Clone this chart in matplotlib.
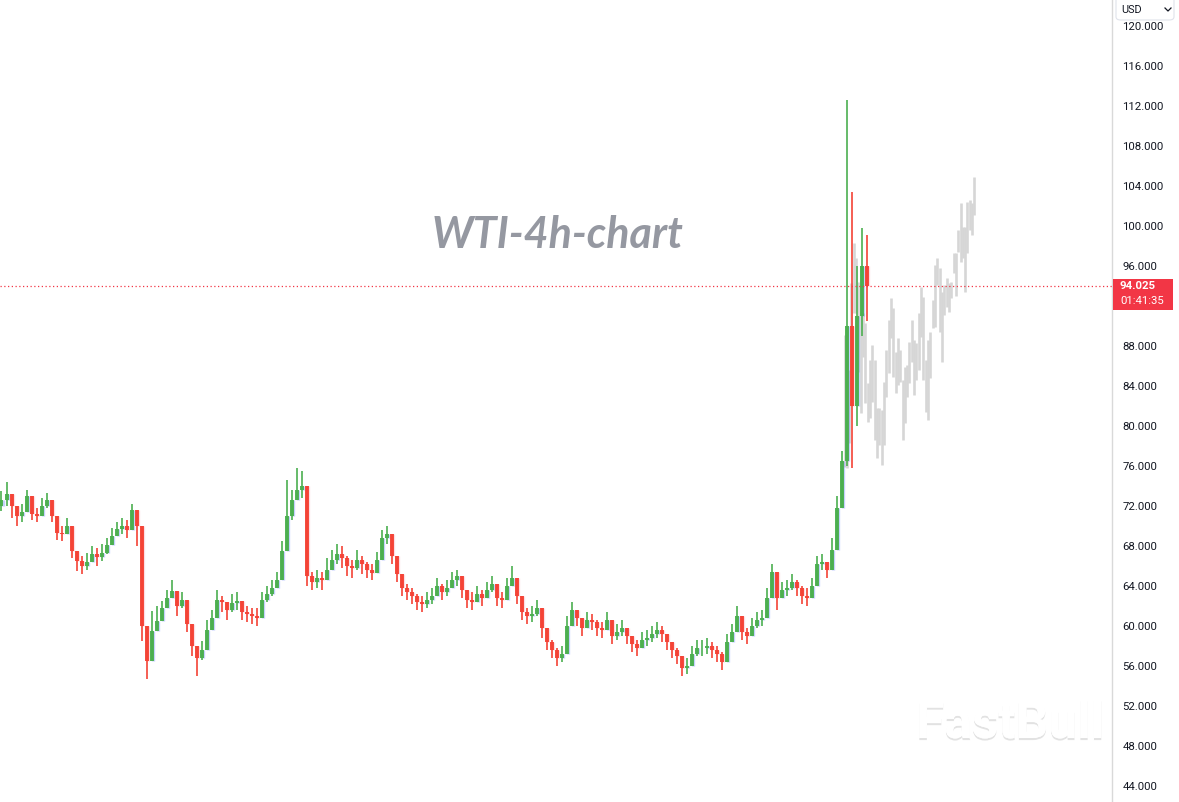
import matplotlib
matplotlib.use("Agg")
import matplotlib.pyplot as plt
import matplotlib.patheffects as pe
from matplotlib.patches import Rectangle, FancyBboxPatch
import numpy as np

first_open = 72.0
closes = [
    72.6, 73.2, 72.0, 71.0, 71.4, 73.0, 71.2, 71.0, 72.0, 72.6,
    71.0, 69.3, 69.2, 70.0, 67.5, 66.5, 66.0, 66.4, 67.2, 66.9,
    67.3, 68.1, 69.0, 69.7, 70.0, 69.6, 71.6, 70.0, 60.0, 56.5,
    59.5, 60.5, 61.8, 62.8, 63.5, 62.0, 62.6, 60.2, 58.0, 56.8,
    57.6, 59.6, 60.8, 62.6, 62.4, 61.6, 62.3, 62.5, 61.4, 61.2,
    61.0, 60.8, 62.6, 63.2, 63.8, 64.6, 67.5, 71.0, 72.6, 73.6,
    74.0, 65.0, 64.4, 64.8, 64.6, 65.6, 66.6, 67.2, 66.8, 66.0,
    65.8, 66.6, 66.2, 65.6, 65.3, 66.6, 68.8, 69.2, 67.0, 65.2,
    63.8, 63.4, 63.0, 62.4, 62.2, 62.6, 63.0, 64.0, 63.4, 63.8,
    64.6, 65.0, 63.6, 62.6, 62.4, 63.2, 62.8, 63.6, 64.2, 62.8,
    62.6, 64.0, 64.8, 63.0, 61.4, 61.0, 61.2, 61.8, 59.8, 58.4,
    57.6, 56.8, 57.2, 60.0, 61.6, 60.8, 59.8, 60.6, 60.4, 59.8,
    59.6, 60.6, 59.0, 59.4, 59.8, 59.0, 58.2, 57.8, 58.6, 58.8,
    59.2, 59.6, 59.2, 58.4, 57.6, 57.0, 55.8, 56.0, 57.2, 57.8,
    57.8, 58.0, 57.6, 57.2, 56.4, 58.4, 59.4, 61.0, 59.4, 59.0,
    60.0, 60.6, 60.8, 62.8, 65.4, 62.8, 63.6, 63.8, 64.4, 63.8,
    63.0, 62.8, 64.0, 66.2, 66.4, 65.6, 67.6, 71.8, 76.5, 90.0,
    82.0, 91.0, 96.0, 94.025,
]
highs = [
    73.5, 74.4, 73.0, 72.0, 72.2, 73.6, 72.5, 71.8, 72.8, 73.3,
    72.0, 70.2, 70.0, 70.8, 68.8, 67.4, 67.0, 67.3, 68.0, 67.8,
    68.2, 68.8, 69.8, 70.4, 70.8, 70.6, 72.2, 71.0, 65.0, 59.0,
    61.5, 62.0, 62.5, 63.6, 64.6, 63.2, 63.4, 61.4, 59.5, 57.8,
    58.5, 60.6, 61.6, 63.6, 63.0, 62.4, 63.2, 63.4, 62.2, 62.0,
    61.8, 61.8, 63.4, 64.0, 64.6, 65.4, 68.5, 74.6, 73.6, 75.8,
    75.5, 72.0, 65.4, 65.6, 65.4, 66.8, 67.6, 68.2, 68.0, 67.0,
    66.6, 67.6, 67.0, 66.4, 66.2, 67.4, 69.6, 70.0, 68.4, 66.2,
    64.8, 64.2, 63.8, 63.2, 63.0, 63.4, 63.8, 64.8, 64.2, 64.6,
    65.4, 65.6, 64.6, 63.4, 63.4, 64.0, 63.6, 64.4, 65.0, 63.8,
    63.4, 64.8, 66.0, 64.0, 62.4, 61.8, 62.0, 62.6, 61.0, 59.4,
    58.6, 57.8, 58.0, 61.0, 62.4, 61.6, 60.6, 61.4, 61.2, 60.6,
    60.4, 61.4, 60.0, 60.2, 60.6, 59.8, 59.0, 58.6, 59.4, 59.6,
    60.0, 60.4, 60.0, 59.2, 58.4, 57.8, 56.8, 56.8, 58.0, 58.6,
    58.6, 58.8, 58.4, 58.0, 57.4, 59.2, 60.2, 62.0, 60.2, 59.8,
    60.8, 61.4, 61.6, 63.8, 66.2, 63.8, 64.4, 64.6, 65.2, 64.6,
    64.0, 63.8, 64.8, 67.0, 67.2, 66.4, 68.8, 73.0, 77.5, 112.6,
    103.4, 96.0, 99.8, 99.1,
]
lows = [
    71.5, 72.0, 70.8, 70.0, 70.4, 72.0, 70.6, 70.4, 71.2, 71.8,
    70.4, 68.6, 68.5, 69.2, 66.8, 65.5, 65.2, 65.6, 66.4, 66.0,
    66.5, 67.2, 68.2, 69.0, 69.2, 68.8, 70.6, 68.0, 58.5, 54.7,
    58.0, 59.5, 60.5, 62.0, 62.8, 61.0, 61.8, 59.4, 57.0, 55.0,
    56.6, 58.6, 59.8, 61.6, 61.4, 60.6, 61.4, 61.6, 60.6, 60.4,
    60.2, 60.0, 61.8, 62.4, 63.0, 63.8, 66.0, 69.6, 70.6, 72.6,
    72.8, 64.0, 63.6, 63.8, 63.6, 64.6, 65.8, 66.2, 65.8, 65.0,
    64.8, 65.6, 65.2, 64.8, 64.6, 65.8, 67.6, 68.2, 66.2, 64.4,
    63.0, 62.6, 62.2, 61.6, 61.4, 61.8, 62.2, 63.2, 62.6, 63.0,
    63.8, 64.0, 62.8, 61.8, 61.6, 62.4, 62.0, 62.8, 63.4, 62.0,
    61.8, 63.2, 64.0, 62.2, 60.6, 60.2, 60.4, 61.0, 58.8, 57.6,
    56.8, 56.0, 56.4, 58.8, 60.6, 60.0, 59.0, 59.8, 59.6, 59.0,
    58.8, 59.8, 58.2, 58.6, 59.0, 58.2, 57.4, 57.0, 57.8, 58.0,
    58.4, 58.8, 58.4, 57.6, 56.8, 56.2, 55.0, 55.2, 56.4, 57.0,
    57.0, 57.2, 56.8, 56.4, 55.6, 57.6, 58.6, 60.2, 58.6, 58.2,
    59.2, 59.8, 60.0, 62.0, 64.0, 61.6, 62.8, 63.0, 63.6, 63.0,
    62.2, 62.0, 63.2, 65.4, 65.6, 64.8, 66.2, 70.6, 74.8, 76.0,
    75.8, 80.0, 89.0, 90.5,
]

# projected (grey) bars-pattern after the last candle
ghost_hi = [89.1, 88.0, 85.6, 94.3, 98.3, 96.8, 94.4, 91.3, 91.3, 90.3,
            84.3, 86.6, 88.1, 86.6, 81.8, 81.8, 81.6, 84.4, 87.6, 90.6,
            92.8, 91.8, 87.4, 88.8, 87.6, 84.6, 85.9, 86.1, 88.4, 90.6,
            88.6, 88.3, 91.3, 93.9, 92.9, 86.6, 88.6, 89.4, 92.6, 96.1,
            96.8, 95.8, 93.4, 94.1, 94.8, 94.3, 94.4, 97.3, 97.3, 99.6,
            102.3, 99.9, 99.9, 102.4, 102.6, 102.3, 104.9]
ghost_lo = [75.9, 75.8, 78.3, 85.3, 91.3, 91.3, 85.4, 81.3, 86.9, 82.3,
            80.4, 80.8, 82.4, 78.6, 76.8, 78.1, 76.1, 78.1, 82.9, 85.3,
            88.8, 84.9, 83.3, 84.1, 84.4, 78.6, 80.3, 82.9, 84.3, 86.4,
            83.1, 84.6, 85.6, 88.9, 84.6, 81.4, 80.6, 84.8, 89.8, 89.9,
            94.1, 89.4, 86.4, 91.1, 91.9, 91.4, 92.8, 95.3, 93.0, 97.4,
            96.4, 96.8, 93.4, 97.3, 99.6, 99.1, 101.1]

price_ticks = list(range(44, 124, 4))
title_text = "WTI-4h-chart"
last_label = "94.025"
countdown = "01:41:35"

# --- LAYOUT ---
W, H = 1179, 802
GREEN = "#4caf50"
RED = "#f44336"
GHOST = "#d6d6d6"
GHOST_START, GHOST_STEP = 168.6, 0.464

fig = plt.figure(figsize=(W / 100, H / 100), dpi=100)
fig.patch.set_facecolor("white")
ax = fig.add_axes([0, 0, 1112 / W, 1])
ax.set_facecolor("white")

opens = [first_open] + closes[:-1]
x = np.arange(len(closes))
up = np.array(closes) >= np.array(opens)
colors = [GREEN if u else RED for u in up]

# faint blue / pink shadow bars behind the candles
shade = ["#5d7bff" if u else "#f7a1b3" for u in up]
ax.vlines(x + 0.35, opens, closes, colors=shade, linewidth=2.4, alpha=0.35, zorder=2)

ax.vlines(x, lows, highs, colors=colors, linewidth=1.2, zorder=3)
ax.vlines(x, opens, closes, colors=colors, linewidth=2.8, zorder=3)

gx = GHOST_START + GHOST_STEP * np.arange(len(ghost_hi))
ax.vlines(gx, ghost_lo, ghost_hi, colors=GHOST, linewidth=1.9, zorder=1)

# current price line
ax.axhline(closes[-1], color="#f23645", linestyle=(0, (1, 2)), linewidth=0.9, zorder=4)

ax.set_xlim(-0.3, 222.1)
ax.set_ylim(42.4, 122.6)
for s in ["left", "top", "bottom"]:
    ax.spines[s].set_visible(False)
ax.spines["right"].set_color("#d9d9d9")
ax.spines["right"].set_linewidth(1.0)
ax.set_xticks([])
ax.yaxis.tick_right()
ax.set_yticks(price_ticks)
ax.set_yticklabels([f"{t:.3f}" for t in price_ticks], fontfamily="Roboto",
                   fontsize=8.2, color="#131722")
ax.tick_params(axis="y", length=0, pad=7.5)

# watermark titles
fig.text(558 / W, 1 - 235 / H, title_text, ha="center", va="center",
         fontsize=31, fontweight="bold", fontstyle="italic", family="Lato",
         color="#9598a1")
fig.text(1010 / W, 1 - 724 / H, "FastBull", ha="center", va="center",
         fontsize=37, fontweight="bold", family="Roboto", color="white",
         path_effects=[pe.withSimplePatchShadow(offset=(0, -1.5), shadow_rgbFace="#d0d0d0",
                                                alpha=0.6), pe.Normal()])

# last price tag
fig.patches.append(Rectangle((1113 / W, 1 - 310 / H), 60 / W, 31 / H,
                             transform=fig.transFigure, facecolor="#f23645",
                             edgecolor="none", zorder=5))
fig.text(1120 / W, 1 - 286 / H, last_label, ha="left", va="center", fontsize=8.2,
         fontweight="bold", family="Roboto", color="white", zorder=6)
fig.text(1120 / W, 1 - 301 / H, countdown, ha="left", va="center", fontsize=8.2,
         family="Roboto", color="white", zorder=6)

# currency selector
fig.patches.append(FancyBboxPatch((1116 / W, 1 - 20 / H), 58 / W, 24 / H,
                                  boxstyle="round,pad=0,rounding_size=0.004",
                                  transform=fig.transFigure, facecolor="white",
                                  edgecolor="#e0e3eb", linewidth=0.8, zorder=5))
fig.text(1121 / W, 1 - 10 / H, "USD", ha="left", va="center", fontsize=7.8,
         family="Roboto", color="#131722", zorder=6)
fig.lines.append(plt.Line2D([1165 / W, 1168 / W, 1171 / W],
                            [1 - 8 / H, 1 - 11 / H, 1 - 8 / H],
                            transform=fig.transFigure, color="#131722",
                            linewidth=0.9, zorder=6))

fig.savefig("out.png", dpi=100)
